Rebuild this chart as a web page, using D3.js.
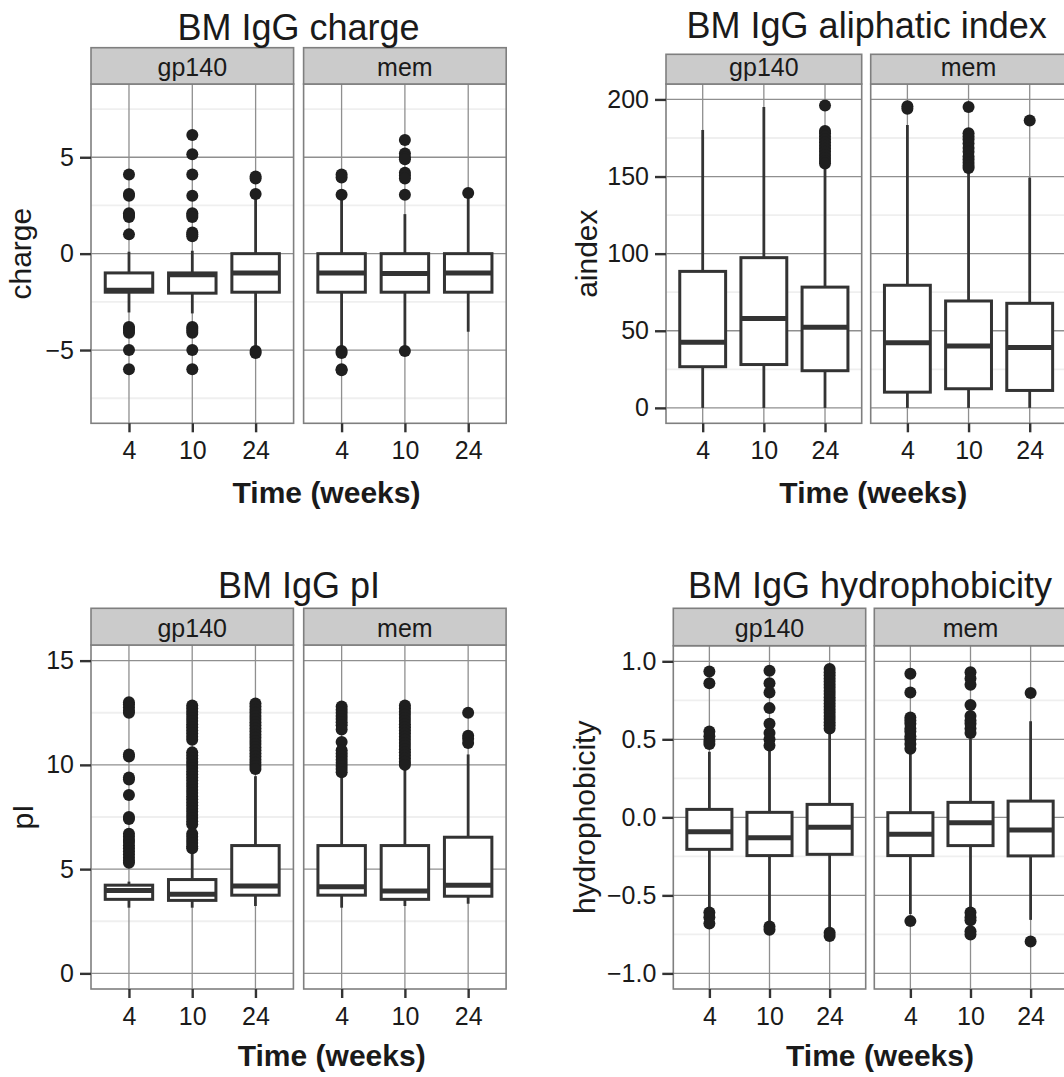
<!DOCTYPE html>
<html>
<head>
<meta charset="utf-8">
<script src="https://cdn.jsdelivr.net/npm/d3@7"></script>
<style>
  body { margin: 0; background: #fff; }
  svg text { font-family: "Liberation Sans", Arial, Helvetica, sans-serif; fill: #1a1a1a; }
</style>
</head>
<body>
<svg id="fig" width="1064" height="1077"></svg>
<script>
// ---------- categories ----------
const weeks = ["4", "10", "24"];
const groups = ["gp140", "mem"];

// ---------- box summaries: group, week, lower whisker, Q1, median, Q3, upper whisker ----------
const chargeBoxes = [
  ["gp140", "4", -3.05, -2.0, -1.9, -1.0, 0.1],
  ["gp140", "10", -3.1, -2.05, -1.1, -1.0, 0.15],
  ["gp140", "24", -5.0, -2.0, -1.0, 0.0, 3.0],
  ["mem", "4", -5.0, -2.0, -1.0, 0.0, 3.0],
  ["mem", "10", -5.0, -2.0, -1.03, 0.0, 2.05],
  ["mem", "24", -4.05, -2.0, -1.0, 0.0, 3.0]
];
const chargeOutliers = [
  ["gp140", "4", [4.1, 3.1, 3.0, 2.1, 2.0, 1.9, 1.0, -3.8, -3.9, -4.0, -4.1, -5.0, -6.0]],
  ["gp140", "10", [6.15, 5.15, 4.1, 3.0, 2.1, 2.0, 1.9, 1.1, 1.0, 0.9, -3.8, -3.9, -4.0, -4.1, -5.0, -6.0]],
  ["gp140", "24", [4.0, 3.9, 3.1, -5.05, -5.15]],
  ["mem", "4", [4.1, 3.95, 3.05, -5.05, -5.15, -6.0, -6.05]],
  ["mem", "10", [5.9, 5.2, 5.0, 4.9, 4.2, 4.05, 3.9, 3.05, -5.05]],
  ["mem", "24", [3.15]]
];

const aindexBoxes = [
  ["gp140", "4", 0, 26.7, 42.6, 88.5, 180.2],
  ["gp140", "10", 0, 28.1, 58.0, 97.4, 195.1],
  ["gp140", "24", 0, 24.1, 52.2, 78.3, 156.7],
  ["mem", "4", 0, 10.2, 42.2, 79.5, 183.4],
  ["mem", "10", 0, 12.4, 40.1, 69.3, 153.5],
  ["mem", "24", 0, 11.3, 39.2, 67.8, 149.3]
];
const aindexOutliers = [
  ["gp140", "4", []],
  ["gp140", "10", []],
  ["gp140", "24", [196.0, 179.5, 178.0, 176.0, 174.0, 172.0, 170.0, 168.0, 166.0, 164.0, 162.0, 160.0, 158.5]],
  ["mem", "4", [195.5, 194.0]],
  ["mem", "10", [195.1, 178.0, 176.0, 174.0, 171.5, 168.5, 166.0, 163.0, 161.0, 159.0, 157.0, 155.5]],
  ["mem", "24", [186.4]]
];

const piBoxes = [
  ["gp140", "4", 3.15, 3.55, 3.97, 4.23, 4.4],
  ["gp140", "10", 3.15, 3.5, 3.79, 4.5, 5.94],
  ["gp140", "24", 3.23, 3.75, 4.19, 6.13, 9.46],
  ["mem", "4", 3.15, 3.75, 4.15, 6.13, 9.46],
  ["mem", "10", 3.23, 3.55, 3.95, 6.13, 9.86],
  ["mem", "24", 3.34, 3.7, 4.23, 6.53, 10.5]
];
const piOutliers = [
  ["gp140", "4", [13.0, 12.9, 12.75, 12.6, 12.5, 10.5, 10.4, 9.4, 9.3, 8.55, 7.5, 7.4, 6.7, 6.55, 6.4, 6.3, 6.15, 6.0, 5.85, 5.7, 5.55, 5.4, 5.3]],
  ["gp140", "10", [12.85, 12.7, 12.55, 12.4, 12.25, 12.1, 11.95, 11.8, 11.65, 11.5, 11.35, 11.2,
                   10.6, 10.45, 10.3, 10.15, 10.0, 9.85, 9.7, 9.55, 9.4, 9.25, 9.1, 8.95, 8.8, 8.65, 8.5, 8.35, 8.2, 8.05, 7.9, 7.75, 7.6, 7.45, 7.3, 7.15,
                   6.7, 6.55, 6.4, 6.25, 6.1, 6.0]],
  ["gp140", "24", [12.95, 12.8, 12.65, 12.5, 12.35, 12.2, 12.05, 11.9, 11.75, 11.6, 11.45, 11.3, 11.15, 11.0, 10.85, 10.7, 10.55, 10.4, 10.25, 10.1, 9.95, 9.8]],
  ["mem", "4", [12.8, 12.65, 12.5, 12.35, 12.2, 12.05, 11.9, 11.7, 11.1, 10.7, 10.55, 10.4, 10.25, 10.1, 9.95, 9.8, 9.65]],
  ["mem", "10", [12.85, 12.7, 12.55, 12.4, 12.25, 12.1, 11.95, 11.8, 11.65, 11.5, 11.35, 11.2, 11.05, 10.9, 10.75, 10.6, 10.45, 10.3, 10.15, 10.0]],
  ["mem", "24", [12.5, 11.4, 11.25, 11.05]]
];

const hydroBoxes = [
  ["gp140", "4", -0.58, -0.205, -0.092, 0.051, 0.42],
  ["gp140", "10", -0.667, -0.245, -0.13, 0.032, 0.43],
  ["gp140", "24", -0.72, -0.237, -0.064, 0.083, 0.537],
  ["mem", "4", -0.62, -0.245, -0.109, 0.03, 0.42],
  ["mem", "10", -0.6, -0.181, -0.034, 0.096, 0.505],
  ["mem", "24", -0.657, -0.247, -0.081, 0.104, 0.616]
];
const hydroOutliers = [
  ["gp140", "4", [0.935, 0.86, 0.55, 0.52, 0.49, 0.47, -0.61, -0.64, -0.68]],
  ["gp140", "10", [0.94, 0.86, 0.8, 0.7, 0.6, 0.54, 0.5, 0.46, -0.7, -0.72]],
  ["gp140", "24", [0.95, 0.93, 0.91, 0.89, 0.87, 0.85, 0.83, 0.81, 0.79, 0.77, 0.75, 0.73, 0.71, 0.69, 0.67, 0.65, 0.63, 0.61, 0.59, 0.57, -0.74, -0.76]],
  ["mem", "4", [0.92, 0.8, 0.64, 0.62, 0.6, 0.57, 0.55, 0.52, 0.5, 0.47, 0.44, -0.665]],
  ["mem", "10", [0.93, 0.89, 0.85, 0.72, 0.65, 0.62, 0.6, 0.57, 0.54, -0.61, -0.64, -0.66, -0.73, -0.75]],
  ["mem", "24", [0.797, -0.795]]
];

// ---------- axis ticks ----------
const chargeTicks = [-5, 0, 5];
const chargeMinor = [-7.5, -2.5, 2.5, 7.5];
const aindexTicks = [0, 50, 100, 150, 200];
const aindexMinor = [25, 75, 125, 175];
const piTicks = [0, 5, 10, 15];
const piMinor = [2.5, 7.5, 12.5];
const hydroTicks = [-1, -0.5, 0, 0.5, 1];
const hydroMinor = [-0.75, -0.25, 0.25, 0.75];

const minus = s => s.replace("-", "\u2212");
const fmtInt = d => minus(d3.format("d")(d));
const fmt1 = d => minus(d3.format(".1f")(d));

// ---------- styling ----------
const INK = "#333333";
const DOT = "#1f1f1f";
const GRID = "#8f8f8f";
const MINOR = "#efefef";
const FRAME = "#7f7f7f";
const STRIP = "#cbcbcb";
const TICK_FONT = 25;

const svg = d3.select("#fig");

function drawChart(cfg, boxes, outliers) {
  const root = svg.append("g");
  const y = d3.scaleLinear().domain(cfg.yDomain).range([cfg.bottom, cfg.top]);

  groups.forEach((grp, gi) => {
    const left = cfg.x0 + gi * (cfg.facetW + cfg.gap);
    const x = d3.scalePoint().domain(weeks).range([left, left + cfg.facetW]).padding(0.6);
    const boxW = x.step() * 0.75;
    const g = root.append("g");

    g.append("rect").attr("x", left).attr("y", cfg.top)
      .attr("width", cfg.facetW).attr("height", cfg.bottom - cfg.top).attr("fill", "#fff");

    g.selectAll(".minor").data(cfg.minor).join("line")
      .attr("x1", left).attr("x2", left + cfg.facetW)
      .attr("y1", d => y(d)).attr("y2", d => y(d))
      .attr("stroke", MINOR).attr("stroke-width", 1.8);

    g.selectAll(".hmajor").data(cfg.ticks).join("line")
      .attr("x1", left).attr("x2", left + cfg.facetW)
      .attr("y1", d => y(d)).attr("y2", d => y(d))
      .attr("stroke", GRID).attr("stroke-width", 1.3);

    g.selectAll(".vmajor").data(weeks).join("line")
      .attr("x1", d => x(d)).attr("x2", d => x(d))
      .attr("y1", cfg.top).attr("y2", cfg.bottom)
      .attr("stroke", GRID).attr("stroke-width", 1.3);

    const rows = boxes.filter(b => b[0] === grp);
    const bx = g.selectAll(".box").data(rows).join("g");
    bx.append("line")
      .attr("x1", d => x(d[1])).attr("x2", d => x(d[1]))
      .attr("y1", d => y(d[2])).attr("y2", d => y(d[3]))
      .attr("stroke", INK).attr("stroke-width", 2.8);
    bx.append("line")
      .attr("x1", d => x(d[1])).attr("x2", d => x(d[1]))
      .attr("y1", d => y(d[5])).attr("y2", d => y(d[6]))
      .attr("stroke", INK).attr("stroke-width", 2.8);
    bx.append("rect")
      .attr("x", d => x(d[1]) - boxW / 2).attr("width", boxW)
      .attr("y", d => y(d[5])).attr("height", d => y(d[3]) - y(d[5]))
      .attr("fill", "#fff").attr("stroke", INK).attr("stroke-width", 3);
    bx.append("line")
      .attr("x1", d => x(d[1]) - boxW / 2).attr("x2", d => x(d[1]) + boxW / 2)
      .attr("y1", d => y(d[4])).attr("y2", d => y(d[4]))
      .attr("stroke", INK).attr("stroke-width", 5);

    const pts = [];
    outliers.filter(o => o[0] === grp).forEach(o => o[2].forEach(v => pts.push([o[1], v])));
    g.selectAll(".pt").data(pts).join("circle")
      .attr("cx", d => x(d[0])).attr("cy", d => y(d[1]))
      .attr("r", 6).attr("fill", DOT);

    g.append("rect").attr("x", left).attr("y", cfg.top)
      .attr("width", cfg.facetW).attr("height", cfg.bottom - cfg.top)
      .attr("fill", "none").attr("stroke", FRAME).attr("stroke-width", 1.6);

    // facet strip
    g.append("rect").attr("x", left).attr("y", cfg.stripTop)
      .attr("width", cfg.facetW).attr("height", cfg.top - cfg.stripTop)
      .attr("fill", STRIP).attr("stroke", FRAME).attr("stroke-width", 1.6);
    g.append("text").attr("x", left + cfg.facetW / 2).attr("y", cfg.top - 8.5)
      .attr("text-anchor", "middle").attr("font-size", 25).text(grp);

    // x axis of this facet
    const xa = g.append("g").attr("transform", `translate(0,${cfg.bottom})`)
      .call(d3.axisBottom(x).tickSize(9).tickPadding(9));
    xa.select(".domain").remove();
    xa.selectAll("line").attr("stroke", INK).attr("stroke-width", 2.4);
    xa.selectAll("text").attr("font-size", TICK_FONT).attr("fill", "#1a1a1a")
      .style("font-family", '"Liberation Sans", Arial, sans-serif');

    if (gi === 0) {
      const ya = g.append("g").attr("transform", `translate(${left},0)`)
        .call(d3.axisLeft(y).tickValues(cfg.ticks).tickFormat(cfg.fmt).tickSize(11).tickPadding(6));
      ya.select(".domain").remove();
      ya.selectAll("line").attr("stroke", INK).attr("stroke-width", 2.4);
      ya.selectAll("text").attr("font-size", TICK_FONT).attr("fill", "#1a1a1a")
        .style("font-family", '"Liberation Sans", Arial, sans-serif');
    }
  });

  root.append("text").attr("x", cfg.titleX).attr("y", cfg.titleY)
    .attr("text-anchor", "middle").attr("font-size", 36).text(cfg.title);
  root.append("text").attr("x", cfg.xTitleX).attr("y", cfg.xTitleY)
    .attr("text-anchor", "middle").attr("font-size", 30).attr("font-weight", "bold")
    .text("Time (weeks)");
  root.append("text")
    .attr("transform", `translate(${cfg.yTitleX},${(cfg.top + cfg.bottom) / 2}) rotate(-90)`)
    .attr("text-anchor", "middle").attr("font-size", 30).text(cfg.yLabel);
}

drawChart({
  title: "BM IgG charge", yLabel: "charge",
  yDomain: [-8.8, 8.8], ticks: chargeTicks, minor: chargeMinor, fmt: fmtInt,
  x0: 91, facetW: 202.6, gap: 10, stripTop: 47.7, top: 84, bottom: 423.3,
  titleX: 298.5, titleY: 40, xTitleX: 326.5, xTitleY: 503, yTitleX: 31
}, chargeBoxes, chargeOutliers);

drawChart({
  title: "BM IgG aliphatic index", yLabel: "aindex",
  yDomain: [-10, 210], ticks: aindexTicks, minor: aindexMinor, fmt: fmtInt,
  x0: 666, facetW: 195.7, gap: 9, stripTop: 54.3, top: 84, bottom: 423.3,
  titleX: 866.7, titleY: 38.3, xTitleX: 873.3, xTitleY: 503, yTitleX: 597
}, aindexBoxes, aindexOutliers);

drawChart({
  title: "BM IgG pI", yLabel: "pI",
  yDomain: [-0.75, 15.75], ticks: piTicks, minor: piMinor, fmt: fmtInt,
  x0: 91, facetW: 202.4, gap: 10.3, stripTop: 608.3, top: 645, bottom: 989,
  titleX: 299, titleY: 598.3, xTitleX: 331.7, xTitleY: 1065.5, yTitleX: 33
}, piBoxes, piOutliers);

drawChart({
  title: "BM IgG hydrophobicity", yLabel: "hydrophobicity",
  yDomain: [-1.1, 1.1], ticks: hydroTicks, minor: hydroMinor, fmt: fmt1,
  x0: 673.3, facetW: 192.4, gap: 8.6, stripTop: 608.3, top: 645.7, bottom: 989,
  titleX: 870, titleY: 598, xTitleX: 880, xTitleY: 1065.5, yTitleX: 595
}, hydroBoxes, hydroOutliers);
</script>
</body>
</html>
